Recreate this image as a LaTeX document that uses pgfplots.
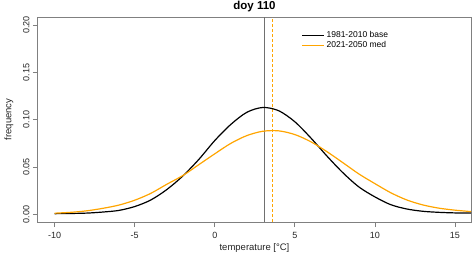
\documentclass[border=0pt]{standalone}
\usepackage{pgfplots}
\pgfplotsset{compat=1.18}
\usepackage{fontspec}
\setmainfont{Liberation Sans}
\definecolor{rorange}{HTML}{FFA500}
\definecolor{boxgray}{HTML}{808080}
\definecolor{vgray}{HTML}{707070}
\begin{document}
\begin{tikzpicture}
\begin{axis}[
  scale only axis, width=433pt, height=205pt,
  xmin=-11.04, xmax=16, ymin=-0.008, ymax=0.2084,
  axis line style={boxgray, line width=1pt},
  tick style={boxgray, line width=0.8pt},
  tick align=outside, major tick length=5pt,
  xtick={-10,-5,0,5,10,15}, ytick={0,0.05,0.1,0.15,0.2},
  xtick pos=bottom, ytick pos=left,
  yticklabels={0.00,0.05,0.10,0.15,0.20},
  /pgf/number format/assume math mode=true,
  ticklabel style={font=\fontsize{9}{10}\selectfont, text=black!85},
  yticklabel style={rotate=90, anchor=south, xshift=0pt},
  xticklabel style={yshift=-2pt},
  xlabel={temperature [°C]}, ylabel={frequency},
  label style={font=\fontsize{9.5}{11}\selectfont, text=black!85},
  xlabel style={yshift=2pt},
  ylabel style={yshift=3pt},
  title={\textbf{doy 110}}, title style={font=\fontsize{11.5}{13}\selectfont, yshift=-4.5pt},
  legend style={draw=none, fill=none, at={(rel axis cs:0.609,0.94)}, anchor=north west,
    font=\fontsize{8.5}{10}\selectfont, row sep=-1.5pt, inner sep=0pt},
  legend cell align=left,
  legend image code/.code={\draw[#1] (0pt,0pt) -- (16.5pt,0pt); \path (0pt,0pt) -- (21.5pt,0pt);},
  clip=true,
]
\addplot[vgray, line width=1.4pt, forget plot] coordinates {(3.11,-0.008) (3.11,0.2084)};
\addplot[rorange, line width=0.6pt, dash pattern=on 3pt off 2pt, forget plot] coordinates {(3.59,-0.008) (3.59,0.2084)};
\addplot[black, line width=1.2pt, smooth] coordinates {
(-10,0.0008) (-9,0.0010) (-8,0.0014) (-7,0.0025) (-6,0.0042) (-5,0.0083)
(-4,0.0152) (-3,0.0262) (-2,0.0405) (-1,0.0580) (0,0.0780) (1,0.0950)
(2,0.1078) (3,0.1129) (4,0.1094) (5,0.0978) (6,0.0807) (7,0.0617)
(8,0.0440) (9,0.0290) (10,0.0185) (11,0.0102) (12,0.0057) (13,0.0033)
(14,0.0022) (15,0.0016) (16,0.0014)};
\addlegendentry{1981-2010 base}
\addplot[rorange, line width=1.2pt, smooth] coordinates {
(-10,0.0013) (-9,0.0022) (-8,0.0038) (-7,0.0064) (-6,0.0098) (-5,0.0150)
(-4,0.0222) (-3,0.0318) (-2,0.0410) (-1,0.0525) (0,0.0640) (1,0.0750)
(2,0.0832) (3,0.0878) (4,0.0882) (5,0.0843) (6,0.0767) (7,0.0663)
(8,0.0546) (9,0.0427) (10,0.0325) (11,0.0228) (12,0.0152) (13,0.0100)
(14,0.0066) (15,0.0045) (16,0.0030)};
\addlegendentry{2021-2050 med}
\end{axis}
\pgfresetboundingbox
\path (-38pt,-36pt) rectangle (434pt,222pt);
\end{tikzpicture}
\end{document}
